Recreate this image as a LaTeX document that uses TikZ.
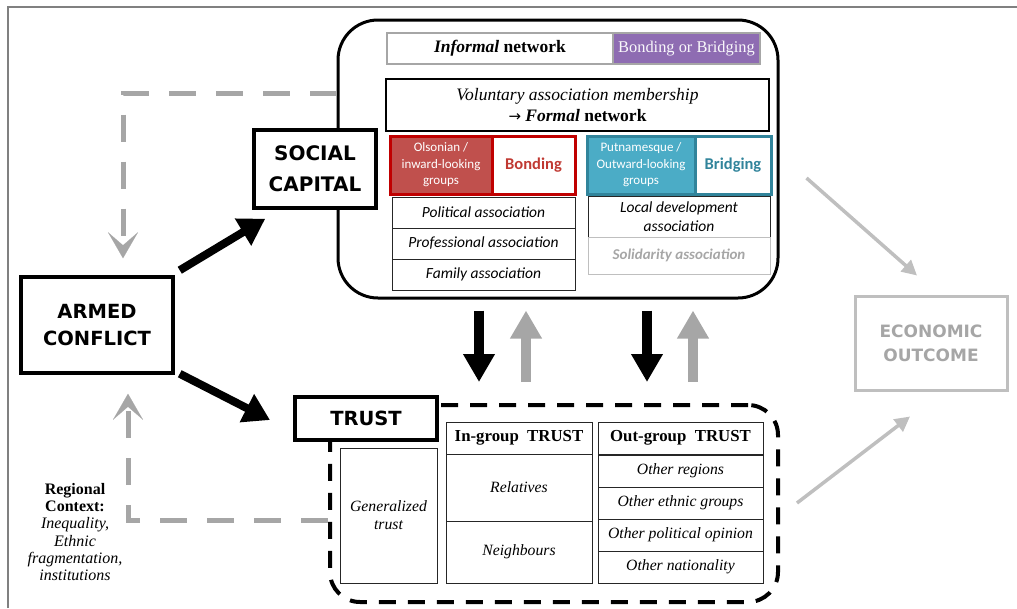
\documentclass[tikz,border=0pt]{standalone}
\usepackage{fontspec}
\setmainfont{Liberation Serif}
\newfontfamily\carl{Carlito}
\newfontfamily\dvs{DejaVu Sans}
\usetikzlibrary{arrows.meta,calc}
\definecolor{purp}{RGB}{142,108,178}
\definecolor{redb}{RGB}{192,0,0}
\definecolor{redf}{RGB}{192,80,77}
\definecolor{redt}{RGB}{192,57,50}
\definecolor{tealb}{RGB}{49,132,155}
\definecolor{tealf}{RGB}{75,172,198}
\definecolor{gdash}{RGB}{166,166,166}
\definecolor{glight}{RGB}{191,191,191}
\definecolor{framegray}{RGB}{128,128,128}
\tikzset{
  every node/.style={inner sep=0pt, align=center},
  capsbox/.style={draw=black, line width=3.5pt, fill=white, font=\dvs\bfseries\fontsize{20}{31}\selectfont},
  cell/.style={draw=black!85, line width=0.9pt, font=\carl\itshape\fontsize{15.5}{19}\selectfont},
  tcell/.style={draw=black!85, line width=0.9pt, font=\itshape\fontsize{15.7}{18}\selectfont},
  thead/.style={draw=black!85, line width=0.9pt, font=\bfseries\fontsize{16.8}{19}\selectfont},
  bigarrow/.style={line width=8pt, -{Triangle[length=26pt,width=30pt]}},
  vertarrow/.style={line width=10pt, -{Triangle[length=28pt,width=30pt]}},
  grayloop/.style={draw=gdash, line width=5pt, dash pattern=on 27pt off 20pt, -{Stealth[length=26pt,width=30pt,inset=13pt,line width=0.1pt]}},
  ecoarrow/.style={draw=glight, line width=3.5pt, -{Triangle[length=15pt,width=15pt]}},
}
\begin{document}
\begin{tikzpicture}[x=1pt,y=-1pt]
\useasboundingbox (0,0) rectangle (1017,608);
% outer frame
\draw[framegray, line width=1.5pt] (8,608) -- (8,7) -- (1017,7);

% social capital container
\node[draw=black, line width=3pt, rounded corners=40pt, minimum width=440pt, minimum height=278pt] (sc) at (558,159) {};

% informal network
\node[draw=gdash, line width=2.5pt, minimum width=226pt, minimum height=31pt, font=\bfseries\fontsize{17.5}{19}\selectfont] (inf) at (500,48.5) {\textit{Informal} network};
\node[draw=gdash, fill=purp, line width=2.5pt, minimum width=147pt, minimum height=31pt, text=white!95!purp, font=\fontsize{16.4}{19}\selectfont] (bb) at (686.5,48.5) {Bonding or Bridging};

% voluntary association
\node[draw=black, line width=2.5pt, minimum width=383pt, minimum height=52pt, font=\fontsize{17.5}{21}\selectfont] (vol) at (577.5,105) {\textit{Voluntary association membership}\\{\dvs\fontsize{15}{21}\selectfont →}~\textbf{\textit{Formal} network}};

% bonding group
\node[draw=redb, fill=redf, line width=3pt, minimum width=102pt, minimum height=58pt, text=white, font=\carl\fontsize{13}{16.5}\selectfont] (ols) at (441,165) {Olsonian /\\inward-looking\\groups};
\node[draw=redb, line width=3pt, minimum width=83pt, minimum height=58pt, text=redt, font=\carl\bfseries\fontsize{16.5}{19}\selectfont] (bond) at (533.5,165) {Bonding};

% bridging group
\node[draw=tealb, fill=tealf, line width=3pt, minimum width=108pt, minimum height=58pt, text=white, font=\carl\fontsize{13}{16.5}\selectfont] (put) at (641,165) {Putnamesque /\\Outward-looking\\groups};
\node[draw=tealb, line width=3pt, minimum width=76pt, minimum height=58pt, text=tealb, font=\carl\bfseries\fontsize{16.5}{19}\selectfont] (brid) at (733,165) {Bridging};

% left association list
\node[cell, minimum width=183pt, minimum height=31pt] (pol) at (483.5,212.5) {Political association};
\node[cell, minimum width=183pt, minimum height=31pt] (pro) at (483.5,243.5) {Professional association};
\node[cell, minimum width=183pt, minimum height=31pt] (fam) at (483.5,274.5) {Family association};

% right association list
\node[cell, minimum width=182pt, minimum height=41pt] (loc) at (679,216.5) {Local development\\association};
\node[cell, draw=black!25, minimum width=182pt, minimum height=37pt, text=black!35, font=\carl\bfseries\itshape\fontsize{15}{18}\selectfont] (sol) at (679,255.5) {Solidarity association};

% social capital label
\node[capsbox, minimum width=122pt, minimum height=78pt] (scap) at (315,169) {SOCIAL\\CAPITAL};

% armed conflict
\node[capsbox, font=\dvs\bfseries\fontsize{19.5}{27}\selectfont, minimum width=152pt, minimum height=96pt] (ac) at (97,325) {ARMED\\CONFLICT};

% trust container
\node[draw=black, line width=4pt, dash pattern=on 17pt off 12pt, rounded corners=30pt, minimum width=448pt, minimum height=197pt] (tb) at (554,503.5) {};
\node[capsbox, line width=4pt, font=\dvs\bfseries\fontsize{19.5}{24}\selectfont, minimum width=142pt, minimum height=43pt] (trust) at (366,418.5) {TRUST};

% generalized trust
\node[tcell, minimum width=97pt, minimum height=135pt] (gen) at (388.5,515.5) {Generalized\\trust};

% in-group
\node[thead, minimum width=146pt, minimum height=32pt] (ingh) at (519,438) {In-group\ \ TRUST};
\node[tcell, minimum width=146pt, minimum height=67pt] (rel) at (519,487.5) {Relatives};
\node[tcell, minimum width=146pt, minimum height=62pt] (nei) at (519,552) {Neighbours};

% out-group
\node[thead, minimum width=165pt, minimum height=32pt] (outh) at (680.5,438) {Out-group\ \ TRUST};
\node[tcell, minimum width=165pt, minimum height=32pt] (oreg) at (680.5,471) {Other regions};
\node[tcell, minimum width=165pt, minimum height=32pt] (oeth) at (680.5,503) {Other ethnic groups};
\node[tcell, minimum width=165pt, minimum height=32pt] (opol) at (680.5,535) {Other political opinion};
\node[tcell, minimum width=165pt, minimum height=32pt] (onat) at (680.5,567) {Other nationality};

% economic outcome
\node[draw=glight, line width=3pt, minimum width=152pt, minimum height=94pt, text=gdash, font=\dvs\bfseries\fontsize{17}{24}\selectfont] (eco) at (931,343) {ECONOMIC\\OUTCOME};

% regional context
\node[font=\fontsize{16}{17.2}\selectfont] (reg) at (75,532) {\textbf{Regional}\\\textbf{Context:}\\\textit{Inequality,}\\\textit{Ethnic}\\\textit{fragmentation,}\\\textit{institutions}};

% black arrows from armed conflict
\draw[bigarrow] ($(ac.north east)+(5,-5)$) -- ($(scap.south west)+(13,9)$);
\draw[bigarrow] ($(ac.south east)+(5,-1)$) -- ($(trust.west)+(-23,1.5)$);

% gray dashed feedback loops
\draw[grayloop] ($(sc.west)+(0,-66)$) -| ($(ac.north)+(26,-17)$);
\draw[grayloop] ($(tb.west)+(0,16.5)$) -| ($(ac.south)+(31,19)$);

% vertical arrows between social capital and trust
\draw[vertarrow, black] ($(sc.south)+(-79,11)$) -- ($(tb.north)+(-75,-21)$);
\draw[vertarrow, gdash] ($(tb.north)+(-28,-21)$) -- ($(sc.south)+(-32,11)$);
\draw[vertarrow, black] ($(sc.south)+(89,11)$) -- ($(tb.north)+(93,-21)$);
\draw[vertarrow, gdash] ($(tb.north)+(139,-21)$) -- ($(sc.south)+(135,11)$);

% arrows to economic outcome
\draw[ecoarrow] ($(sc.east)+(27,19)$) -- ($(eco.north)+(-14,-19)$);
\draw[ecoarrow] ($(tb.east)+(17,-0.5)$) -- ($(eco.south)+(-21,25)$);
\end{tikzpicture}
\end{document}
